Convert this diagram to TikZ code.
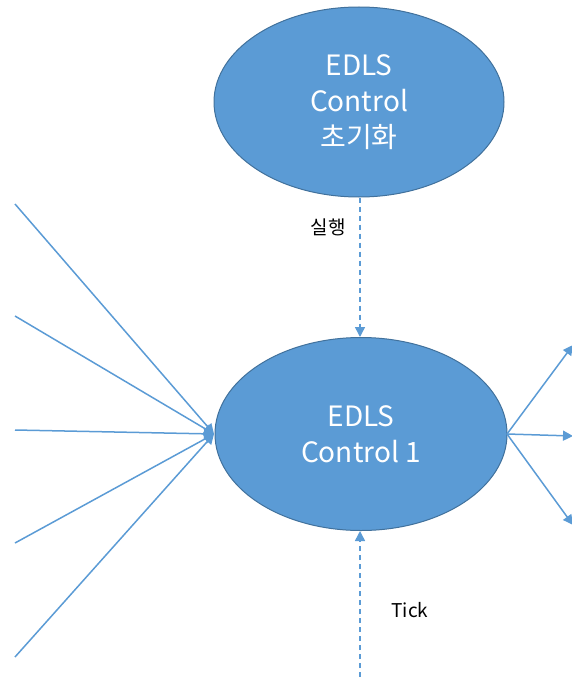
\documentclass[tikz,border=0pt]{standalone}
\usepackage{fontspec}
\setmainfont{Noto Sans CJK KR}
\usetikzlibrary{shapes.geometric,arrows.meta}
\definecolor{ofblue}{HTML}{5B9BD5}
\definecolor{ofedge}{HTML}{41719C}
\begin{document}
\begin{tikzpicture}[x=1pt,y=-1pt,
  blob/.style={ellipse,fill=ofblue,draw=ofedge,line width=1pt,text=white,
    align=center,font=\fontsize{28}{36}\selectfont,inner sep=0pt},
  link/.style={draw=ofblue,line width=1.5pt,-{Triangle[length=10pt,width=10pt]}},
  dlink/.style={link,dash pattern=on 5pt off 4pt},
  tag/.style={font=\fontsize{19}{22}\selectfont,text=black}]
\useasboundingbox (0,0) rectangle (572,677);
\node[blob,minimum width=290pt,minimum height=190pt] (init) at (359,102)
  {EDLS\\Control\\초기화};
\node[blob,minimum width=292pt,minimum height=193pt] (ctl) at (361,434)
  {EDLS\\Control 1};
% incoming lines converge on the left side
\coordinate (hub) at (214,434);
\foreach \y [count=\i] in {204,316,430,543,657}
  \coordinate (in\i) at (15,\y);
\foreach \i in {1,...,5}
  \draw[link] (in\i) -- (hub);
% outgoing lines
\coordinate (src) at (507,434);
\coordinate (o1) at (573,345);
\coordinate (o2) at (573,436);
\coordinate (o3) at (573,525);
\foreach \i in {1,2,3}
  \draw[link] (src) -- (o\i);
% dashed control flow
\coordinate (tickstart) at (360,677);
\draw[dlink] (init.south -| tickstart) -- (ctl.north -| tickstart);
\draw[dlink] (tickstart) -- (ctl.south -| tickstart);
\node[tag] (run) at (328,227) {실행};
\node[tag] (tick) at (410,610) {Tick};
\end{tikzpicture}
\end{document}
